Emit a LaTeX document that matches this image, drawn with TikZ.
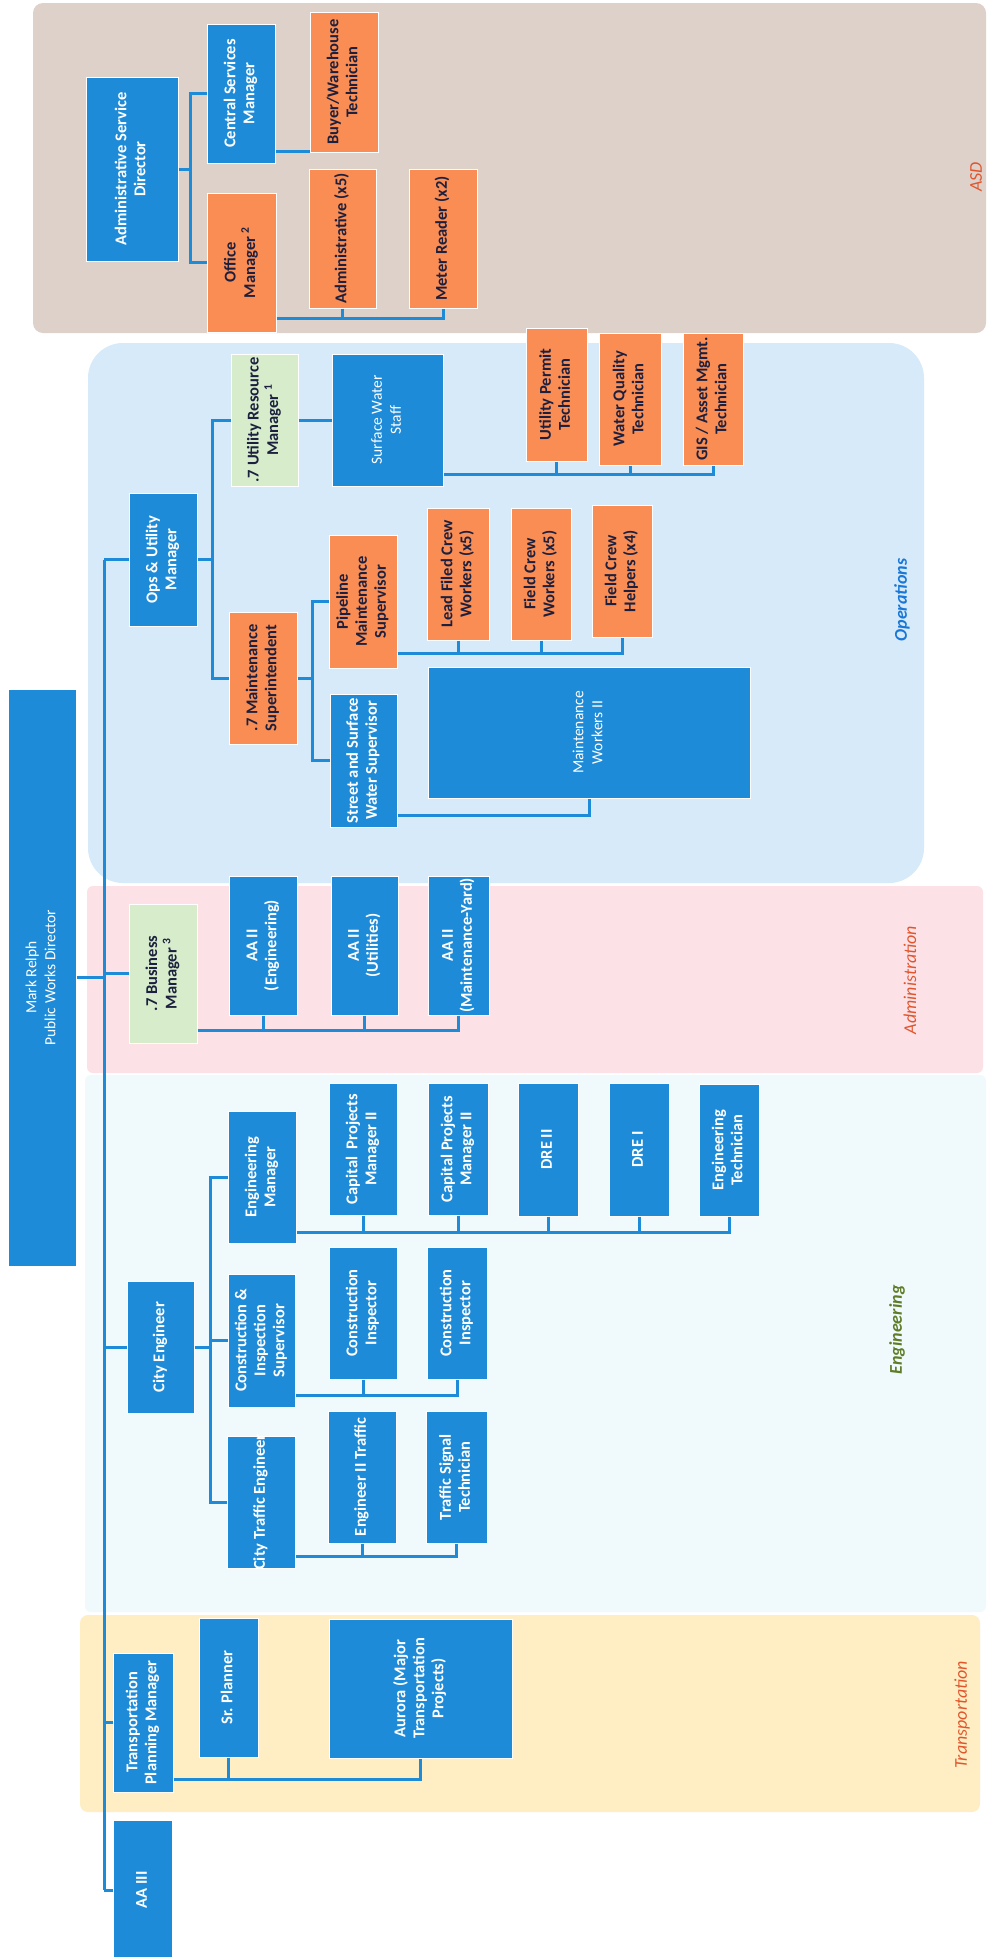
\documentclass[tikz,border=0pt]{standalone}
\usepackage{fontspec}
\setmainfont{Carlito}
\usepackage{graphicx}

\definecolor{pwblue}{RGB}{30,139,216}
\definecolor{pworange}{RGB}{249,141,84}
\definecolor{pwgreen}{RGB}{214,236,203}
\definecolor{pwnavy}{RGB}{28,32,62}
\definecolor{asdbg}{RGB}{221,209,202}
\definecolor{opsbg}{RGB}{214,234,250}
\definecolor{adminbg}{RGB}{252,226,231}
\definecolor{engbg}{RGB}{240,250,252}
\definecolor{transbg}{RGB}{255,238,196}
\definecolor{opslabel}{RGB}{25,120,215}
\definecolor{redlabel}{RGB}{225,85,45}
\definecolor{englabel}{RGB}{95,125,40}

\newcommand{\vtext}[1]{\rotatebox{90}{\makebox[0pt]{\begin{tabular}{@{}c@{}}#1\end{tabular}}}}

\begin{document}
\begin{tikzpicture}[
    x=1pt, y=-1pt,
    box/.style={rectangle, draw=white, line width=1pt, inner sep=0pt, font=\fontsize{16.5}{19}\selectfont\bfseries},
    bluebox/.style={box, fill=pwblue, text=white},
    orangebox/.style={box, fill=pworange, text=pwnavy},
    greenbox/.style={box, fill=pwgreen, text=pwnavy},
    lightfont/.style={font=\fontsize{15.5}{19}\selectfont\mdseries},
    sz/.style 2 args={minimum width=#1, minimum height=#2},
    link/.style={draw=pwblue, line width=3pt},
    deptlabel/.style={rotate=90, font=\fontsize{18}{21}\selectfont\itshape}
]
\fill[white] (0,0) rectangle (986,1957);
\useasboundingbox (0,0) rectangle (986,1957);

% department areas
\fill[asdbg, rounded corners=10] (33,3) rectangle (986,333);
\fill[opsbg, rounded corners=35] (88,343) rectangle (924,883);
\fill[adminbg, rounded corners=6] (87,886) rectangle (983,1073);
\fill[engbg, rounded corners=6] (85,1075) rectangle (986,1612);
\fill[transbg, rounded corners=8] (80,1615) rectangle (980,1812);

\node[deptlabel, text=redlabel] (asdlbl) at (976,177) {ASD};
\node[deptlabel, text=opslabel] (opslbl) at (902,600) {\bfseries Operations};
\node[deptlabel, text=redlabel] (adminlbl) at (910,980) {Administration};
\node[deptlabel, text=englabel] (englbl) at (897,1330) {\bfseries Engineering};
\node[deptlabel, text=redlabel] (translbl) at (962,1715) {Transportation};

% ASD
\node[bluebox, sz={92}{184}] (asddir) at (132,169) {\vtext{Administrative Service\\Director}};
\node[bluebox, sz={68}{139}] (csm) at (241,93.5) {\vtext{Central Services\\Manager}};
\node[orangebox, sz={69}{139}] (offmgr) at (241.5,262.5) {\vtext{Office\\Manager \textsuperscript{2}}};
\node[orangebox, sz={68}{140}] (buyer) at (344,82) {\vtext{Buyer/Warehouse\\Technician}};
\node[orangebox, sz={67}{139}] (admin5) at (342.5,238.5) {\vtext{Administrative (x5)}};
\node[orangebox, sz={68}{139}] (meter) at (443,238.5) {\vtext{Meter Reader (x2)}};

% Operations
\node[bluebox, sz={68}{133}] (opsmgr) at (163,559.5) {\vtext{Ops \& Utility\\Manager}};
\node[greenbox, sz={67}{132}] (urm) at (264.5,420) {\vtext{.7 Utility Resource\\Manager \textsuperscript{1}}};
\node[bluebox, lightfont, sz={111}{132}] (sws) at (387.5,420) {\vtext{Surface Water\\Staff}};
\node[orangebox, sz={68}{132}] (msup) at (263,678) {\vtext{.7 Maintenance\\Superintendent}};
\node[orangebox, sz={68}{133}] (pipe) at (363,601.5) {\vtext{Pipeline\\Maintenance\\Supervisor}};
\node[bluebox, sz={67}{133}] (street) at (363.5,760.5) {\vtext{Street and Surface\\Water Supervisor}};
\node[orangebox, sz={62}{132}] (lead) at (458,574) {\vtext{Lead Filed Crew\\Workers (x5)}};
\node[orangebox, sz={60}{132}] (fcw) at (541,574) {\vtext{Field Crew\\Workers (x5)}};
\node[orangebox, sz={60}{132}] (fch) at (622,571) {\vtext{Field Crew\\Helpers (x4)}};
\node[bluebox, lightfont, sz={322}{131}] (mw2) at (589,732.5) {\vtext{Maintenance\\Workers II}};
\node[orangebox, sz={61}{133}] (upt) at (556.5,394.5) {\vtext{Utility Permit\\Technician}};
\node[orangebox, sz={62}{132}] (wqt) at (630,399) {\vtext{Water Quality\\Technician}};
\node[orangebox, sz={60}{132}] (gis) at (713,399) {\vtext{GIS / Asset Mgmt.\\Technician}};

% Administration
\node[bluebox, lightfont, sz={68}{577}] (mark) at (42,977.5) {\vtext{Mark Relph\\Public Works Director}};
\node[greenbox, sz={68}{139}] (bizmgr) at (163,973.5) {\vtext{.7 Business\\Manager \textsuperscript{3}}};
\node[bluebox, sz={68}{139}] (aaeng) at (263,945.5) {\vtext{AA II\\(Engineering)}};
\node[bluebox, sz={67}{139}] (aautil) at (364.5,945.5) {\vtext{AA II\\(Utilities)}};
\node[bluebox, sz={61}{139}] (aayard) at (458.5,945.5) {\vtext{AA II\\(Maintenance-Yard)}};

% Engineering
\node[bluebox, sz={67}{132}] (cityeng) at (160.5,1347) {\vtext{City Engineer}};
\node[bluebox, sz={68}{132}] (engmgr) at (262,1177) {\vtext{Engineering\\Manager}};
\node[bluebox, sz={67}{133}] (cisup) at (261.5,1340.5) {\vtext{Construction \&\\Inspection\\Supervisor}};
\node[bluebox, sz={68}{132}] (cte) at (261,1502) {\vtext{City Traffic Engineer}};
\node[bluebox, sz={68}{132}] (cpm1) at (363,1149) {\vtext{Capital\ \ Projects\\Manager II}};
\node[bluebox, sz={60}{132}] (cpm2) at (458,1149) {\vtext{Capital Projects\\Manager II}};
\node[bluebox, sz={60}{133}] (dre2) at (548,1149.5) {\vtext{DRE II}};
\node[bluebox, sz={60}{133}] (dre1) at (639,1149.5) {\vtext{DRE I}};
\node[bluebox, sz={60}{132}] (engtech) at (729,1150) {\vtext{Engineering\\Technician}};
\node[bluebox, sz={68}{132}] (ci1) at (363,1313) {\vtext{Construction\\Inspector}};
\node[bluebox, sz={60}{132}] (ci2) at (457,1313) {\vtext{Construction\\Inspector}};
\node[bluebox, sz={68}{132}] (eng2t) at (362,1477) {\vtext{Engineer II Traffic}};
\node[bluebox, sz={61}{132}] (tst) at (456.5,1477) {\vtext{Traffic Signal\\Technician}};

% Transportation
\node[bluebox, sz={60}{139}] (tpm) at (143,1722.5) {\vtext{Transportation\\Planning Manager}};
\node[bluebox, sz={59}{139}] (srpl) at (228.5,1687.5) {\vtext{Sr. Planner}};
\node[bluebox, sz={183}{139}] (aurora) at (420.5,1688.5) {\vtext{Aurora (Major\\Transportation\\Projects)}};
\node[bluebox, sz={59}{140}] (aa3) at (143,1890) {\vtext{AA III}};

% director bus
\coordinate (bus) at (104,0);
\draw[link] (opsmgr.west -| bus) -- (aa3.west -| bus);
\draw[link] (mark.east) -- (mark.east -| bus);
\draw[link] (opsmgr.west) -- (opsmgr.west -| bus);
\draw[link] (bizmgr.west) -- (bizmgr.west -| bus);
\draw[link] (cityeng.west) -- (cityeng.west -| bus);
\draw[link] (tpm.west) -- (tpm.west -| bus);
\draw[link] (aa3.west) -- (aa3.west -| bus);

% ASD links
\draw[link] (asddir.east) -- ++(12,0) coordinate (asdj);
\draw[link] (csm.west) -| (asdj);
\draw[link] (offmgr.west) -| (asdj);
\coordinate (csmout) at ([yshift=12pt]csm.south east);
\draw[link] (csmout) -- (csmout -| buyer.west);
\coordinate (omout) at ([yshift=14pt]offmgr.south east);
\draw[link] (omout) -| (meter.south);
\draw[link] (admin5.south) -- (admin5.south |- omout);

% Operations links
\draw[link] (opsmgr.east) -- ++(15,0) coordinate (opsj);
\draw[link] (urm.west) -| (opsj);
\draw[link] (msup.west) -| (opsj);
\draw[link] (urm.east) -- (sws.west);
\coordinate (swsout) at ([yshift=12pt]sws.south east);
\draw[link] (swsout) -| (gis.south);
\draw[link] (upt.south) -- (upt.south |- swsout);
\draw[link] (wqt.south) -- (wqt.south |- swsout);
\draw[link] (msup.east) -- ++(15,0) coordinate (msj);
\draw[link] (pipe.west) -| (msj);
\draw[link] (street.west) -| (msj);
\coordinate (pipeout) at ([yshift=15pt]pipe.south east);
\draw[link] (pipeout) -| (fch.south);
\draw[link] (lead.south) -- (lead.south |- pipeout);
\draw[link] (fcw.south) -- (fcw.south |- pipeout);
\coordinate (streetout) at ([yshift=12pt]street.south east);
\draw[link] (streetout) -| (mw2.south);

% Administration links
\coordinate (bizout) at ([yshift=13pt]bizmgr.south east);
\draw[link] (bizout) -| (aayard.south);
\draw[link] (aaeng.south) -- (aaeng.south |- bizout);
\draw[link] (aautil.south) -- (aautil.south |- bizout);

% Engineering links
\draw[link] (cityeng.east) -- ++(16,0) coordinate (cej);
\draw[link] (engmgr.west) -| (cej);
\draw[link] (cisup.west) -| (cej);
\draw[link] (cte.west) -| (cej);
\coordinate (emout) at ([yshift=11pt]engmgr.south east);
\draw[link] (emout) -| (engtech.south);
\draw[link] (cpm1.south) -- (cpm1.south |- emout);
\draw[link] (cpm2.south) -- (cpm2.south |- emout);
\draw[link] (dre2.south) -- (dre2.south |- emout);
\draw[link] (dre1.south) -- (dre1.south |- emout);
\coordinate (ciout) at ([yshift=12pt]cisup.south east);
\draw[link] (ciout) -| (ci2.south);
\draw[link] (ci1.south) -- (ci1.south |- ciout);
\coordinate (cteout) at ([yshift=12pt]cte.south east);
\draw[link] (cteout) -| (tst.south);
\draw[link] (eng2t.south) -- (eng2t.south |- cteout);

% Transportation links
\coordinate (tpmout) at ([yshift=13pt]tpm.south east);
\draw[link] (tpmout) -| (aurora.south);
\draw[link] (srpl.south) -- (srpl.south |- tpmout);
\end{tikzpicture}
\end{document}
